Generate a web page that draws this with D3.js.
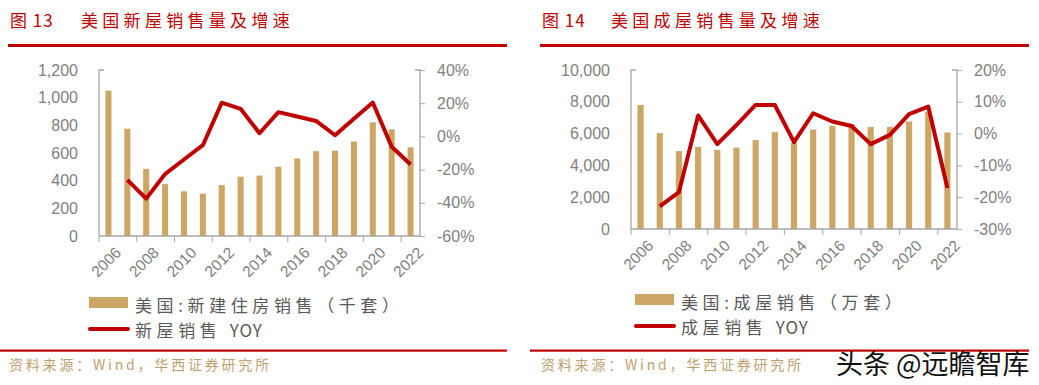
<!DOCTYPE html>
<html>
<head>
<meta charset="utf-8">
<script src="https://cdn.jsdelivr.net/npm/d3@7"></script>
<style>
  body { margin: 0; background: #fff; }
  svg { display: block; }
  .axis text { font-family: "Liberation Sans", "DejaVu Sans", sans-serif; fill: #7f7f7f; }
</style>
</head>
<body>
<svg id="viz" width="1039" height="385"></svg>
<script>
// categories (years)
const years = d3.range(2006, 2023).map(String);
const yearTicks = ["2006", "2008", "2010", "2012", "2014", "2016", "2018", "2020", "2022"];

// fig 13: new home sales (thousand) and yoy (%)
const newSales = [1051, 776, 485, 375, 323, 306, 368, 429, 437, 501, 561, 613, 617, 683, 822, 771, 641];
const newYoy = [null, -26.2, -37.5, -22.7, -13.9, -5.3, 20.3, 16.6, 1.9, 14.6, 12.0, 9.3, 0.7, 10.7, 20.4, -6.2, -16.9];

// fig 14: existing home sales and yoy (%)
const oldSales = [7800, 6030, 4900, 5170, 4980, 5120, 5590, 6090, 5420, 6250, 6490, 6610, 6420, 6420, 6760, 7380, 6070];
const oldYoy = [null, -22.9, -18.4, 5.7, -3.3, 2.7, 9.0, 9.0, -2.7, 6.4, 3.8, 2.4, -3.3, -0.4, 6.1, 8.5, -17.1];

const leftTicks13 = [0, 200, 400, 600, 800, 1000, 1200];
const rightTicks13 = [-60, -40, -20, 0, 20, 40];
const leftTicks14 = [0, 2000, 4000, 6000, 8000, 10000];
const rightTicks14 = [-30, -20, -10, 0, 10, 20];

const RED = "#c00000";
const BAR = "#cda565";
const CJK = "'Noto Sans CJK SC', sans-serif";

const svg = d3.select("#viz");

function drawPanel(opt) {
  const g = svg.append("g");

  // title + underline
  g.append("text")
    .attr("x", opt.x0 + 2).attr("y", 27)
    .attr("fill", RED).attr("font-family", CJK).attr("font-size", 17)
    .attr("letter-spacing", 1)
    .text(opt.fig);
  g.append("text")
    .attr("x", opt.titleX).attr("y", 27)
    .attr("fill", RED).attr("font-family", CJK).attr("font-size", 17)
    .attr("letter-spacing", 4.3)
    .text(opt.title);
  g.append("rect")
    .attr("x", opt.x0).attr("y", 44)
    .attr("width", opt.x1 - opt.x0).attr("height", 3)
    .attr("fill", RED);

  const x = d3.scaleBand().domain(years).range([opt.left, opt.right]).paddingInner(0.68).paddingOuter(0.34);
  const yL = d3.scaleLinear().domain(opt.yDomain).range([opt.bottom, opt.top]);
  const yR = d3.scaleLinear().domain(opt.rDomain).range([opt.bottom, opt.top]);
  const edge = d => x(d) - x.step() * x.paddingOuter();

  // bars
  g.selectAll(".bar")
    .data(opt.sales)
    .enter().append("rect")
    .attr("class", "bar")
    .attr("x", (d, i) => x(years[i]))
    .attr("width", x.bandwidth())
    .attr("y", d => yL(d))
    .attr("height", d => opt.bottom - yL(d))
    .attr("fill", BAR);

  // axes
  const axL = g.append("g").attr("class", "axis")
    .attr("transform", `translate(${opt.left},0)`)
    .call(d3.axisLeft(yL).tickValues(opt.yTicks).tickFormat(d3.format(",")).tickSize(0).tickPadding(21));
  const axR = g.append("g").attr("class", "axis")
    .attr("transform", `translate(${opt.right},0)`)
    .call(d3.axisRight(yR).tickValues(opt.rTicks).tickFormat(d => d + "%").tickSize(5).tickPadding(12));
  [axL, axR].forEach(a => {
    a.select(".domain").attr("stroke", "#a6a6a6").attr("stroke-width", 1.3);
    a.selectAll(".tick line").attr("stroke", "#a6a6a6");
    a.selectAll("text").attr("font-size", 16).attr("fill", "#7f7f7f");
  });
  axL.select(".domain").attr("d", `M5,${opt.top}H0V${opt.bottom}`);
  axR.select(".domain").attr("d", `M-5,${opt.top}H0V${opt.bottom}`);

  // x axis: ticks at category edges every 2 years
  const axX = g.append("g").attr("class", "axis");
  axX.append("line")
    .attr("x1", opt.left).attr("x2", opt.right)
    .attr("y1", opt.bottom).attr("y2", opt.bottom)
    .attr("stroke", "#a6a6a6").attr("stroke-width", 1.3);
  axX.selectAll(".xt")
    .data(yearTicks)
    .enter().append("line")
    .attr("x1", d => edge(d)).attr("x2", d => edge(d))
    .attr("y1", opt.bottom).attr("y2", opt.bottom + 6)
    .attr("stroke", "#a6a6a6");
  axX.selectAll(".xl")
    .data(yearTicks)
    .enter().append("text")
    .attr("transform", d => `translate(${x(d) + x.bandwidth() / 2 + 6},${opt.bottom + 10}) rotate(-45)`)
    .attr("text-anchor", "end")
    .attr("dy", "0.7em")
    .attr("font-size", 15.5)
    .text(d => d);

  // yoy line
  const line = d3.line()
    .defined(d => d != null)
    .x((d, i) => x(years[i]) + x.bandwidth() / 2)
    .y(d => yR(d));
  g.append("path")
    .datum(opt.yoy)
    .attr("d", line)
    .attr("fill", "none")
    .attr("stroke", RED)
    .attr("stroke-width", 4)
    .attr("stroke-linejoin", "round");

  // legend
  g.append("rect")
    .attr("x", opt.legX).attr("y", opt.legY)
    .attr("width", 39).attr("height", 11)
    .attr("fill", BAR);
  g.append("text")
    .attr("x", opt.legX + 46).attr("y", opt.legY + 15)
    .attr("font-family", CJK).attr("font-size", 17).attr("fill", "#595959")
    .attr("letter-spacing", 4.6)
    .text(opt.barName);
  g.append("line")
    .attr("x1", opt.legX + 1).attr("x2", opt.legX + 39)
    .attr("y1", opt.legY + 32).attr("y2", opt.legY + 32)
    .attr("stroke", RED).attr("stroke-width", 4).attr("stroke-linecap", "round");
  const lt = g.append("text")
    .attr("x", opt.legX + 46).attr("y", opt.legY + 40)
    .attr("font-family", CJK).attr("font-size", 17).attr("fill", "#595959");
  lt.append("tspan").attr("letter-spacing", 4.6).text(opt.lineName + " ");
  lt.append("tspan").attr("letter-spacing", 1).text("YOY");

  // footer
  g.append("rect")
    .attr("x", opt.fx0).attr("y", 349.5)
    .attr("width", opt.fx1 - opt.fx0).attr("height", 2.2)
    .attr("fill", RED);
  g.append("text")
    .attr("x", opt.x0 + 1).attr("y", 370)
    .attr("font-family", CJK).attr("font-size", 14).attr("fill", "#c0a070")
    .attr("letter-spacing", 2.8)
    .text("资料来源：Wind，华西证券研究所");
}

drawPanel({
  x0: 8, x1: 507, fx0: 0, fx1: 507, fig: "图 13", titleX: 81, title: "美国新屋销售量及增速",
  left: 99, right: 420, top: 70, bottom: 236,
  yDomain: [0, 1200], rDomain: [-60, 40], yTicks: leftTicks13, rTicks: rightTicks13,
  sales: newSales, yoy: newYoy,
  legX: 89, legY: 297, barName: "美国:新建住房销售（千套）", lineName: "新屋销售"
});

drawPanel({
  x0: 540, x1: 1029, fx0: 530, fx1: 1029, fig: "图 14", titleX: 611, title: "美国成屋销售量及增速",
  left: 631, right: 957, top: 70, bottom: 229,
  yDomain: [0, 10000], rDomain: [-30, 20], yTicks: leftTicks14, rTicks: rightTicks14,
  sales: oldSales, yoy: oldYoy,
  legX: 635, legY: 294, barName: "美国:成屋销售（万套）", lineName: "成屋销售"
});

// watermark
svg.append("text")
  .attr("x", 836).attr("y", 374)
  .attr("font-family", CJK).attr("font-size", 27).attr("fill", "#111")
  .text("头条 @远瞻智库");
</script>
</body>
</html>
